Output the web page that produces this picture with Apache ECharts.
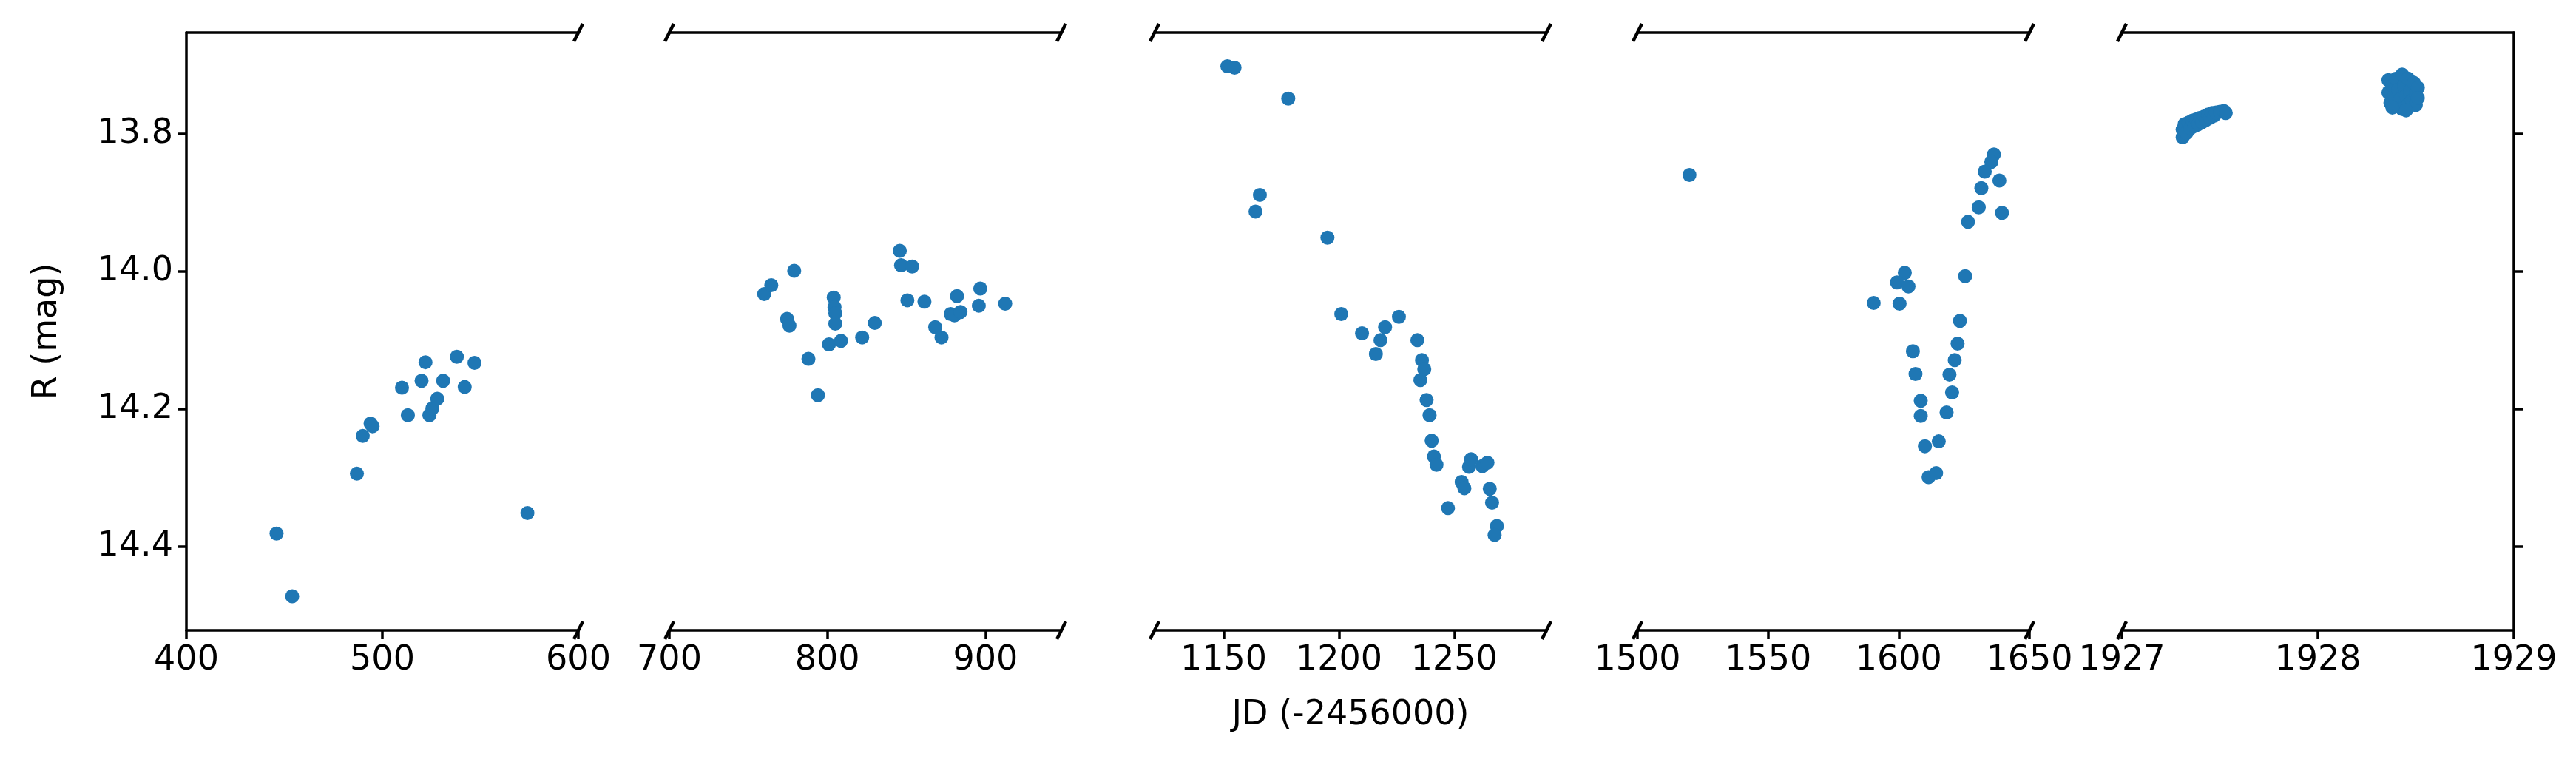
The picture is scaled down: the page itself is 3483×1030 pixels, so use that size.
<!DOCTYPE html>
<html>
<head>
<meta charset="utf-8">
<script src="https://cdn.jsdelivr.net/npm/echarts@6/dist/echarts.min.js"></script>
<style>html,body{margin:0;padding:0;background:#fff}#main{width:3483px;height:1030px}</style>
</head>
<body>
<div id="main"></div>
<script>
// light curve, R magnitude vs JD-2456000, split in five time windows
const season1 = [[446,14.381],[454,14.472],[487,14.294],[490,14.239],[494,14.221],[495,14.225],[510,14.169],[513,14.209],
  [520,14.159],[522,14.132],[524,14.209],[525.5,14.199],[528,14.185],[531,14.159],[538,14.124],[542,14.168],[547,14.133],[574,14.351]];
const season2 = [[760,14.033],[764.5,14.020],[774.5,14.069],[776,14.079],[779,13.999],[788,14.127],[794,14.180],[801,14.106],
  [804,14.038],[804.5,14.052],[805,14.061],[805,14.076],[808.6,14.101],[822,14.096],[830,14.075],[845.8,13.970],[846.6,13.991],
  [853.6,13.993],[850.6,14.042],[861.4,14.044],[868.2,14.081],[872.2,14.096],[878,14.062],[880.4,14.064],[884.2,14.059],
  [882,14.036],[896.7,14.025],[895.8,14.050],[912.5,14.047]];
const season3 = [[1151.6,13.702],[1154.7,13.704],[1178,13.749],[1165.7,13.889],[1163.8,13.913],[1195,13.951],[1201,14.062],
  [1210,14.090],[1220,14.081],[1218,14.100],[1216,14.120],[1226,14.066],[1234,14.100],[1236,14.129],[1237,14.142],[1235.3,14.158],
  [1238,14.187],[1239.3,14.209],[1240.2,14.246],[1241.2,14.269],[1242.3,14.281],[1247.3,14.344],[1253.2,14.306],[1254.4,14.315],
  [1256.4,14.284],[1257.3,14.273],[1262.2,14.283],[1264.4,14.278],[1265.4,14.316],[1266.4,14.336],[1268.5,14.370],[1267.5,14.383]];
const season4 = [[1519.9,13.860],[1636.4,13.830],[1635.4,13.841],[1632.9,13.855],[1638.5,13.868],[1631.6,13.879],[1630.6,13.907],
  [1639.5,13.915],[1626.5,13.928],[1625.4,14.007],[1602.3,14.002],[1599.3,14.016],[1603.7,14.022],[1590.4,14.046],[1600.3,14.047],
  [1623.4,14.072],[1622.5,14.105],[1605.4,14.116],[1621.4,14.129],[1606.4,14.149],[1619.4,14.150],[1620.4,14.176],[1608.4,14.188],
  [1608.4,14.210],[1618.3,14.205],[1610,14.254],[1615.3,14.247],[1611.4,14.299],[1614.3,14.293]];
const season5 = [[1927.31,13.805],[1927.31,13.794],[1927.32,13.786],[1927.33,13.799],[1927.34,13.784],[1927.35,13.792],
  [1927.36,13.781],[1927.37,13.789],[1927.38,13.779],[1927.39,13.786],[1927.40,13.777],[1927.41,13.783],[1927.42,13.775],
  [1927.43,13.780],[1927.44,13.772],[1927.45,13.777],[1927.46,13.770],[1927.47,13.774],[1927.48,13.769],[1927.50,13.768],
  [1927.52,13.767],[1927.53,13.770],
  [1928.36,13.722],[1928.36,13.740],[1928.37,13.755],[1928.38,13.730],[1928.39,13.745],[1928.40,13.760],[1928.40,13.720],
  [1928.41,13.736],[1928.42,13.750],[1928.43,13.764],[1928.43,13.714],[1928.44,13.730],[1928.45,13.745],[1928.46,13.758],
  [1928.46,13.720],[1928.47,13.738],[1928.48,13.752],[1928.49,13.726],[1928.50,13.742],[1928.50,13.758],[1928.51,13.733],
  [1928.51,13.748],[1928.45,13.766],[1928.38,13.762]];

const panels = [
  {data: season1, min: 400, max: 600, ticks: [400, 500, 600]},
  {data: season2, min: 700, max: 948, ticks: [700, 800, 900]},
  {data: season3, min: 1120, max: 1290, ticks: [1150, 1200, 1250]},
  {data: season4, min: 1500, max: 1650, ticks: [1500, 1550, 1600, 1650]},
  {data: season5, min: 1927, max: 1929, ticks: [1927, 1928, 1929]}
];
const yTicks = [13.8, 14.0, 14.2, 14.4];
const yMin = 13.653, yMax = 14.5215;

const lefts = [252, 905, 1561, 2214, 2869];
const W = 530, TOP = 44, BOT = 852;
const font = 'DejaVu Sans';
const lineW = 3.5;
const black = '#000';

const grid = [], xAxis = [], yAxis = [], series = [], graphic = [];
panels.forEach((p, i) => {
  grid.push({left: lefts[i], top: TOP, width: W, height: BOT - TOP});
  xAxis.push({
    type: 'value', gridIndex: i, min: p.min, max: p.max, position: 'bottom',
    axisLine: {onZero: false, lineStyle: {color: black, width: lineW}},
    axisTick: {show: true, length: 12, customValues: p.ticks, lineStyle: {width: lineW, color: black}},
    axisLabel: {customValues: p.ticks, formatter: v => String(v), fontFamily: font, fontSize: 46, color: black, margin: 18},
    splitLine: {show: false},
    name: i === 2 ? 'JD (-2456000)' : '', nameLocation: 'middle', nameGap: 92,
    nameTextStyle: {fontFamily: font, fontSize: 46, color: black}
  });
  xAxis.push({
    type: 'value', gridIndex: i, min: p.min, max: p.max, position: 'top',
    axisLine: {onZero: false, lineStyle: {color: black, width: lineW}},
    axisTick: {show: false}, axisLabel: {show: false}, splitLine: {show: false}
  });
  const first = i === 0, last = i === panels.length - 1;
  yAxis.push({
    type: 'value', gridIndex: i, inverse: true, min: yMin, max: yMax,
    position: last ? 'right' : 'left',
    axisLine: {show: first || last, onZero: false, lineStyle: {color: black, width: lineW}},
    axisTick: {show: first || last, length: 12, customValues: yTicks, lineStyle: {width: lineW, color: black}},
    axisLabel: {show: first, customValues: yTicks, formatter: v => v.toFixed(1), fontFamily: font, fontSize: 46, color: black, margin: 18},
    splitLine: {show: false},
    name: first ? 'R (mag)' : '', nameLocation: 'middle', nameGap: 165,
    nameTextStyle: {fontFamily: font, fontSize: 46, color: black}
  });
  series.push({
    type: 'scatter', xAxisIndex: 2 * i, yAxisIndex: i, data: p.data,
    symbolSize: 19, itemStyle: {color: '#1f77b4', opacity: 1}, silent: true
  });
  // break marks at the open ends of top and bottom spines
  const ends = [];
  if (!last) ends.push(lefts[i] + W);
  if (!first) ends.push(lefts[i]);
  ends.forEach(x => [TOP, BOT].forEach(y => {
    graphic.push({type: 'line', shape: {x1: x - 6, y1: y + 12, x2: x + 6, y2: y - 12},
      style: {stroke: black, lineWidth: lineW + 1}});
  }));
});

const chart = echarts.init(document.getElementById('main'), null, {renderer: 'canvas'});
chart.setOption({animation: false, backgroundColor: '#fff', grid, xAxis, yAxis, series, graphic});
</script>
</body>
</html>
